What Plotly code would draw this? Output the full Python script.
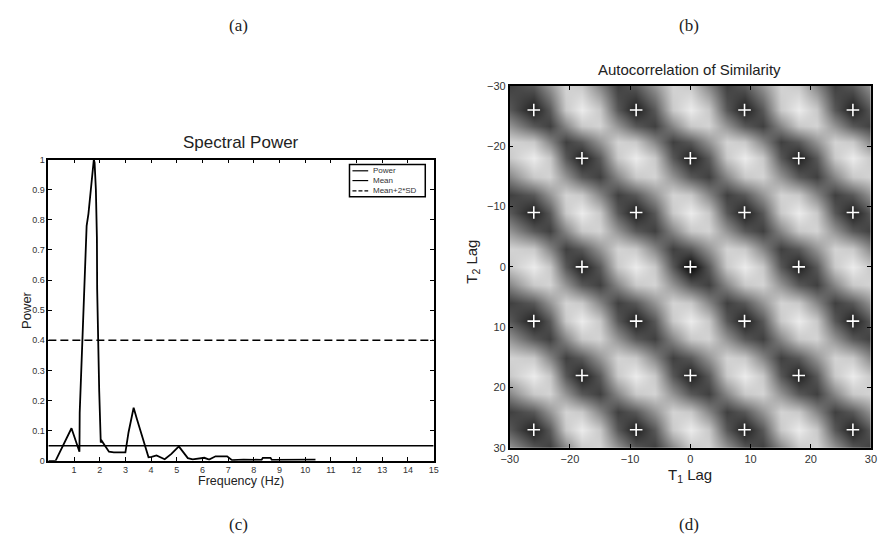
import plotly.graph_objects as go

W, H = 880, 547

# ---------------- Panel (c): Spectral Power ----------------
freq_hz = [0, 0.28, 0.9, 1.18, 1.21, 1.22, 1.28, 1.34, 1.40, 1.45, 1.49, 1.56, 1.62, 1.67,
           1.72, 1.77, 1.80, 1.85, 1.89, 1.90, 1.98, 2.04, 2.08, 2.17, 2.36, 2.55, 3.0, 3.12,
           3.32, 3.45, 3.71, 3.9, 4.02, 4.21, 4.53, 4.79, 5.08, 5.43, 5.62, 5.87, 6.07, 6.26,
           6.51, 6.96, 7.15, 7.6, 8.0, 8.3, 8.35, 8.65, 8.7, 9.0, 9.3, 9.6, 10.0, 10.4]
power = [0, 0, 0.108, 0.03, 0.03, 0.16, 0.29, 0.42, 0.55, 0.67, 0.78, 0.82, 0.87, 0.91,
         0.96, 1.0, 0.99, 0.90, 0.74, 0.57, 0.23, 0.061, 0.066, 0.055, 0.03, 0.028, 0.028, 0.094,
         0.176, 0.138, 0.06, 0.012, 0.013, 0.018, 0.005, 0.023, 0.048, 0.009, 0.005, 0.008, 0.01, 0.004,
         0.015, 0.015, 0.002, 0.004, 0.003, 0.003, 0.01, 0.01, 0.003, 0.003, 0.005, 0.003, 0.005, 0.004]
freq_span = [0, 15]
mean_level = 0.05
mean_2sd_level = 0.40
freq_ticks = list(range(1, 16))
power_ticks = [0, 0.1, 0.2, 0.3, 0.4, 0.5, 0.6, 0.7, 0.8, 0.9, 1.0]
power_ticktext = ["0", "0.1", "0.2", "0.3", "0.4", "0.5", "0.6", "0.7", "0.8", "0.9", "1"]
legend_labels = ["Power", "Mean", "Mean+2*SD"]

# ---------------- Panel (d): Autocorrelation of Similarity ----------------
lag_grid = [-30, -26, -23.3, -20.7, -18, -15, -12, -9, -6, -3, 0, 3, 6, 9, 12, 15, 18, 21, 24, 27, 30]
row_a = [.82, .96, .82, .36, .12, .36, .82, .96, .82, .36, .12, .36, .82, .96, .82, .36, .12, .36, .82, .96, .82]
row_a0 = [.82, .96, .82, .36, .12, .36, .82, .96, .82, .36, .00, .36, .82, .96, .82, .36, .12, .36, .82, .96, .82]
row_b = [.55, .82, .86, .60, .36, .26, .55, .82, .86, .60, .36, .26, .55, .82, .86, .60, .36, .26, .55, .82, .86]
row_c = [.26, .36, .60, .86, .82, .55, .26, .36, .60, .86, .82, .55, .26, .36, .60, .86, .82, .55, .26, .36, .60]
row_d = [.36, .12, .36, .82, .96, .82, .36, .12, .36, .82, .96, .82, .36, .12, .36, .82, .96, .82, .36, .12, .36]
row_e = [.60, .36, .26, .55, .82, .86, .60, .36, .26, .55, .82, .86, .60, .36, .26, .55, .82, .86, .60, .36, .26]
row_f = [.86, .82, .55, .26, .36, .60, .86, .82, .55, .26, .36, .60, .86, .82, .55, .26, .36, .60, .86, .82, .55]
similarity = [row_c, row_d, row_e, row_f, row_a, row_b, row_c, row_d, row_e, row_f, row_a0,
              row_b, row_c, row_d, row_e, row_f, row_a, row_b, row_c, row_d, row_e]
peak_t1 = [-26, -9, 9, 27, -18, 0, 18, -26, -9, 9, 27, -18, 0, 18,
           -26, -9, 9, 27, -18, 0, 18, -26, -9, 9, 27]
peak_t2 = [-26, -26, -26, -26, -18, -18, -18, -9, -9, -9, -9, 0, 0, 0,
           9, 9, 9, 9, 18, 18, 18, 27, 27, 27, 27]
lag_ticks = [-30, -20, -10, 0, 10, 20, 30]

SANS = "Liberation Sans, Arial, sans-serif"
SERIF = "Liberation Serif, Times New Roman, serif"


def px(x):
    return x / W


def py(y):
    return 1 - y / H


fig = go.Figure()

fig.add_trace(go.Scatter(x=freq_hz, y=power, mode="lines",
                         line=dict(color="black", width=1.8), xaxis="x", yaxis="y",
                         showlegend=False, name=legend_labels[0]))
fig.add_trace(go.Scatter(x=freq_span, y=[mean_level, mean_level], mode="lines",
                         line=dict(color="black", width=1.4), xaxis="x", yaxis="y",
                         showlegend=False, name=legend_labels[1]))
fig.add_trace(go.Scatter(x=freq_span, y=[mean_2sd_level, mean_2sd_level], mode="lines",
                         line=dict(color="black", width=1.6, dash="8px,4px"), xaxis="x", yaxis="y",
                         showlegend=False, name=legend_labels[2]))

fig.add_trace(go.Heatmap(x=lag_grid, y=lag_grid, z=similarity, zmin=0, zmax=1,
                         zsmooth="best", showscale=False,
                         colorscale=[[0, "#000000"], [1, "#f6f6f6"]],
                         xaxis="x2", yaxis="y2", hoverinfo="skip"))
fig.add_trace(go.Scatter(x=peak_t1, y=peak_t2, mode="markers",
                         marker=dict(symbol="cross-thin", size=9, color="white",
                                     line=dict(color="white", width=1.6)),
                         xaxis="x2", yaxis="y2", showlegend=False))

axis_common = dict(showline=True, linecolor="black", linewidth=1.5, mirror="ticks",
                   ticks="inside", ticklen=4, tickwidth=1, tickcolor="black",
                   showgrid=False, zeroline=False)

fig.update_layout(
    width=W, height=H, margin=dict(l=0, r=0, t=0, b=0),
    paper_bgcolor="white", plot_bgcolor="white", showlegend=False,
    xaxis=dict(domain=[px(40), px(431.5)], anchor="y", range=[0, 15],
               tickvals=freq_ticks, tickfont=dict(family=SANS, size=9, color="#333"),
               **axis_common),
    yaxis=dict(domain=[py(465), py(157)], anchor="x", range=[0, 1],
               tickvals=power_ticks, ticktext=power_ticktext,
               tickfont=dict(family=SANS, size=9, color="#333"), **axis_common),
    xaxis2=dict(domain=[px(508.8), px(875.9)], anchor="y2", range=[-30, 30],
                tickvals=lag_ticks, tickfont=dict(family=SANS, size=11, color="#333"),
                **axis_common),
    yaxis2=dict(domain=[py(451.8), py(81.6)], anchor="x2", range=[30, -30],
                tickvals=lag_ticks, tickfont=dict(family=SANS, size=11, color="#333"),
                **axis_common),
)

annotations = [
    dict(text="(a)", x=233, y=20, size=17, font=SERIF),
    dict(text="(b)", x=691, y=20, size=17, font=SERIF),
    dict(text="(c)", x=233, y=530, size=17, font=SERIF),
    dict(text="(d)", x=691, y=530, size=17, font=SERIF),
    dict(text="Spectral Power", x=236, y=140, size=17, font=SANS),
    dict(text="Autocorrelation of Similarity", x=692, y=65, size=15, font=SANS),
    dict(text="Frequency (Hz)", x=236, y=486, size=12.5, font=SANS),
    dict(text="Power", x=17, y=311, size=13, font=SANS, angle=-90),
    dict(text="T<sub>1</sub> Lag", x=692, y=480, size=15, font=SANS),
    dict(text="T<sub>2</sub> Lag", x=471, y=262, size=15, font=SANS, angle=-90),
]
for a in annotations:
    fig.add_annotation(text=a["text"], x=px(a["x"]), y=py(a["y"]), xref="paper", yref="paper",
                       xanchor="center", yanchor="middle", showarrow=False,
                       textangle=a.get("angle", 0),
                       font=dict(family=a["font"], size=a["size"], color="#222"))

# legend box (manual)
fig.add_shape(type="rect", xref="paper", yref="paper", x0=px(346), x1=px(423), y0=py(195), y1=py(162),
              line=dict(color="black", width=1.5), fillcolor="white")
leg_rows = [168.5, 178.5, 189]
leg_dash = ["solid", "solid", "4px,2px"]
for lbl, yy, d in zip(legend_labels, leg_rows, leg_dash):
    fig.add_shape(type="line", xref="paper", yref="paper", x0=px(349), x1=px(365), y0=py(yy), y1=py(yy),
                  line=dict(color="black", width=1.2, dash=d))
    fig.add_annotation(text=lbl, x=px(368), y=py(yy), xref="paper", yref="paper",
                       xanchor="left", yanchor="middle", showarrow=False,
                       font=dict(family=SANS, size=8, color="#333"))

fig.write_html("out.html")
